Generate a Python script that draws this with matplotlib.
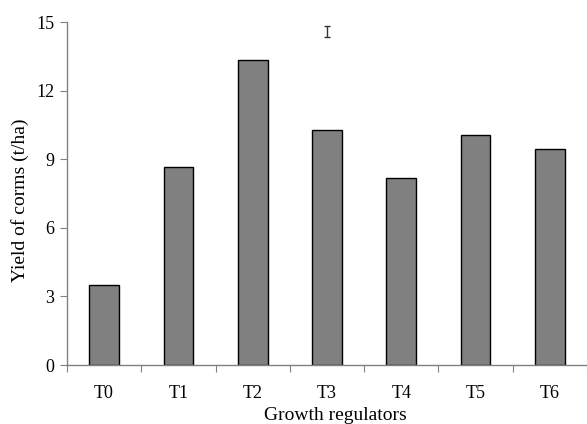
import numpy as np
import matplotlib
matplotlib.use("Agg")
import matplotlib.pyplot as plt

plt.rcParams['font.family'] = ['Liberation Serif', 'DejaVu Serif']

treatments = ["T0", "T1", "T2", "T3", "T4", "T5", "T6"]
yields = [3.48, 8.66, 13.32, 10.29, 8.19, 10.04, 9.47]
# LSD bar drawn above T3
lsd_pos = 3
lsd_center = 14.58
lsd_half = 0.24

fig = plt.figure(figsize=(5.87, 4.24), dpi=100)
ax = fig.add_axes([0.114, 0.139, 0.886, 0.809])

x = np.arange(len(treatments))
ax.bar(x, yields, width=0.4, color="#808080", edgecolor="black", linewidth=1.0)
ax.errorbar([lsd_pos], [lsd_center], yerr=[lsd_half], fmt="none",
            ecolor="#333333", elinewidth=1.0, capsize=2.5, capthick=1.0)

ax.set_xlim(-0.5, len(treatments) - 0.5)
ax.set_ylim(0, 15)
ax.set_yticks([0, 3, 6, 9, 12, 15])

# ticks between categories, labels centred
ax.set_xticks(np.arange(-0.5, len(treatments)), minor=False)
ax.set_xticklabels([])
ax.set_xticks(x, minor=True)
ax.set_xticklabels(treatments, minor=True)
ax.tick_params(axis="x", which="major", direction="out", length=5, color="#808080")
ax.tick_params(axis="x", which="minor", length=0, labelsize=13, pad=14)
ax.tick_params(axis="y", direction="out", length=5, color="#808080", labelsize=13, pad=4)

for side in ["top", "right"]:
    ax.spines[side].set_visible(False)
for side in ["left", "bottom"]:
    ax.spines[side].set_color("#808080")
    ax.spines[side].set_linewidth(1.0)

fig.text(0.572, 0.021, "Growth regulators", fontsize=14, ha="center", va="center")
fig.text(0.034, 0.528, "Yield of corms (t/ha)", fontsize=14, ha="center", va="center",
         rotation=90)

fig.savefig("out.png", dpi=100)
